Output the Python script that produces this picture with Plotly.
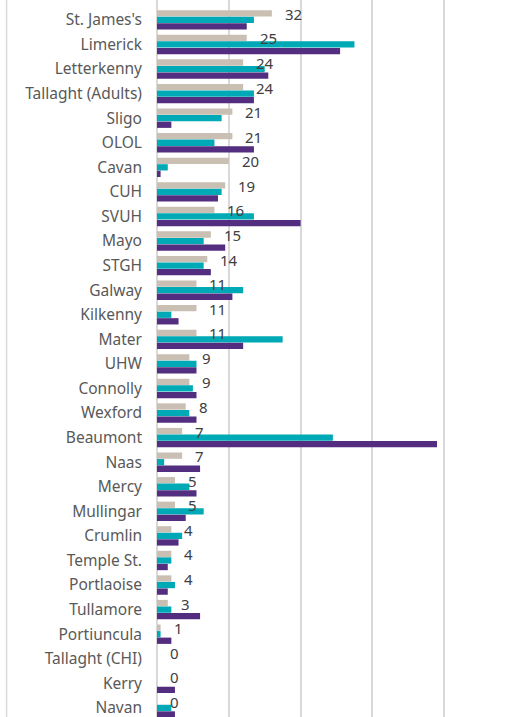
import plotly.graph_objects as go

categories = ["St. James's", "Limerick", "Letterkenny", "Tallaght (Adults)", "Sligo", "OLOL",
              "Cavan", "CUH", "SVUH", "Mayo", "STGH", "Galway", "Kilkenny", "Mater", "UHW",
              "Connolly", "Wexford", "Beaumont", "Naas", "Mercy", "Mullingar", "Crumlin",
              "Temple St.", "Portlaoise", "Tullamore", "Portiuncula", "Tallaght (CHI)",
              "Kerry", "Navan"]
series_gray = [32, 25, 24, 24, 21, 21, 20, 19, 16, 15, 14, 11, 11, 11, 9, 9, 8, 7, 7, 5, 5, 4,
               4, 4, 3, 1, 0, 0, 0]
series_teal = [27, 55, 30, 27, 18, 16, 3, 18, 27, 13, 13, 24, 4, 35, 11, 10, 9, 49, 2, 9, 13, 7,
               4, 5, 4, 1, 0, 0, 4]
series_purple = [25, 51, 31, 27, 4, 27, 1, 17, 40, 19, 15, 21, 6, 24, 11, 11, 11, 78, 12, 11, 8,
                 6, 3, 3, 12, 4, 0, 5, 5]

C_GRAY = "#C9BFB3"
C_TEAL = "#00A9B6"
C_PURPLE = "#532E80"

fig = go.Figure()
for vals, col in [(series_gray, C_GRAY), (series_teal, C_TEAL), (series_purple, C_PURPLE)]:
    fig.add_trace(go.Bar(y=categories, x=vals, orientation="h", marker=dict(color=col, line=dict(width=0)),
                         hoverinfo="x+y"))

for cat, v in zip(categories, series_gray):
    fig.add_annotation(x=v, y=cat, text=str(v), showarrow=False, xanchor="left", yanchor="middle",
                       xshift=11, yshift=6, font=dict(family="Noto Sans", size=15, color="#404040"))

fig.add_shape(type="line", xref="paper", yref="paper", x0=-0.419, x1=-0.419, y0=0, y1=1,
              line=dict(color="#D9D9D9", width=1.5))

n = len(categories)
fig.update_layout(
    width=523, height=717,
    margin=dict(l=157, r=7, t=0, b=0, autoexpand=False),
    paper_bgcolor="white", plot_bgcolor="white",
    barmode="group", bargap=0.2, bargroupgap=0.04,
    showlegend=False,
    font=dict(family="Noto Sans", size=15.5, color="#595959"),
)
fig.update_xaxes(range=[0, 100], dtick=20, showgrid=True, gridcolor="#D9D9D9", gridwidth=1.5,
                 zeroline=True, zerolinecolor="#D9D9D9", zerolinewidth=1.5,
                 showticklabels=False, ticks="", automargin=False)
fig.update_yaxes(range=[28.37, -0.81], showgrid=False, ticks="", ticklabelstandoff=14,
                 automargin=False,
                 tickfont=dict(family="Noto Sans", size=15.5, color="#595959"))

fig.write_html("out.html", config={"displayModeBar": False},
               post_script="document.body.style.margin='0';document.body.style.overflow='hidden';")
